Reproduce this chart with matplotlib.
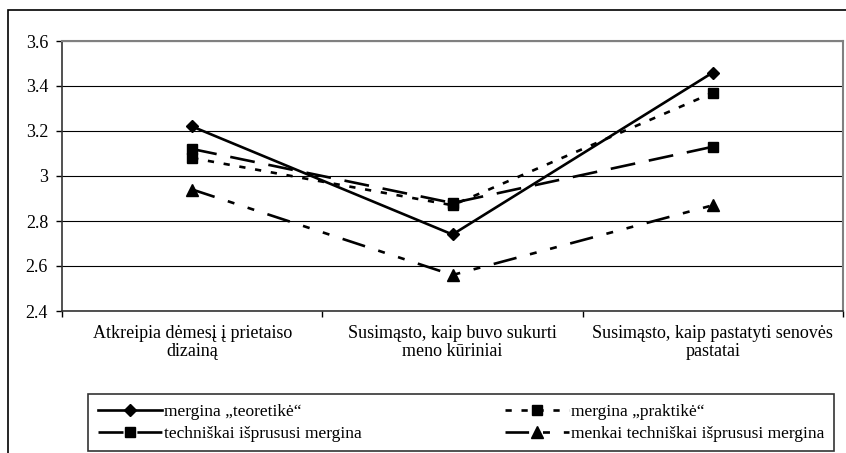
import matplotlib
matplotlib.use("Agg")
import matplotlib.pyplot as plt
from matplotlib.patches import Rectangle

plt.rcParams['font.family'] = ['Liberation Serif', 'DejaVu Serif']
plt.rcParams['lines.scale_dashes'] = False

# Survey categories and mean scores per respondent group
categories = [
    "Atkreipia dėmesį į prietaiso\ndizainą",
    "Susimąsto, kaip buvo sukurti\nmeno kūriniai",
    "Susimąsto, kaip pastatyti senovės\npastatai",
]
teoretike = [3.22, 2.74, 3.46]
praktike = [3.08, 2.87, 3.37]
technine = [3.12, 2.88, 3.13]
menkai = [2.94, 2.56, 2.87]

labels = [
    "mergina „teoretikė“",
    "mergina „praktikė“",
    "techniškai išprususi mergina",
    "menkai techniškai išprususi mergina",
]
y_ticks = [2.4, 2.6, 2.8, 3.0, 3.2, 3.4, 3.6]
y_tick_labels = ["2.4", "2.6", "2.8", "3", "3.2", "3.4", "3.6"]

W, H = 846, 453
fig = plt.figure(figsize=(W / 100, H / 100), dpi=100)

# outer chart frame
fig.patches.append(Rectangle((8 / W, -0.05), 1.2, 1 - 10 / H + 0.05,
                             transform=fig.transFigure, fill=False,
                             edgecolor='black', linewidth=1.2))

ax = fig.add_axes([62 / W, 1 - 311 / H, (843 - 62) / W, (311 - 41) / H])
x = list(range(len(categories)))

lw = 1.9
l1, = ax.plot(x, teoretike, color='black', lw=lw, linestyle='-',
              marker='D', markersize=6.5, label=labels[0])
l2, = ax.plot(x, praktike, color='black', lw=lw, linestyle=(0, (4.5, 7)),
              marker='s', markersize=7, label=labels[1])
l3, = ax.plot(x, technine, color='black', lw=lw, linestyle=(0, (18, 10)),
              marker='s', markersize=7, label=labels[2])
l4, = ax.plot(x, menkai, color='black', lw=lw,
              linestyle=(0, (17, 10, 5, 10, 5, 10)),
              marker='^', markersize=8, label=labels[3])

ax.set_xlim(-0.5, len(categories) - 0.5)
ax.set_ylim(2.4, 3.6)
ax.set_yticks(y_ticks)
ax.set_yticklabels(y_tick_labels)
ax.set_xticks(x)
ax.set_xticklabels(categories, linespacing=1.1)
ax.set_xticks([i - 0.5 for i in range(len(categories) + 1)], minor=True)
ax.tick_params(axis='x', which='major', length=0, pad=10, labelsize=13)
ax.tick_params(axis='x', which='minor', length=4, width=1, direction='out')
ax.tick_params(axis='y', length=4, width=1, pad=6, labelsize=13)

ax.yaxis.grid(True, color='black', linewidth=0.8)
ax.set_axisbelow(True)
for s in ('top', 'right'):
    ax.spines[s].set_color('#808080')
    ax.spines[s].set_linewidth(1.5)
for s in ('left', 'bottom'):
    ax.spines[s].set_color('#333333')
    ax.spines[s].set_linewidth(1.2)

leg = fig.legend(handles=[l1, l3, l2, l4], ncol=2,
                 bbox_to_anchor=(88 / W, 1 - 394 / H),
                 loc='upper left', borderaxespad=0,
                 fontsize=12.5, handlelength=3.7, handletextpad=0.15,
                 columnspacing=8.2, labelspacing=0.35, borderpad=0.55,
                 frameon=True, fancybox=False, edgecolor='black')
leg.get_frame().set_linewidth(1.2)

fig.savefig("out.png", dpi=100)
